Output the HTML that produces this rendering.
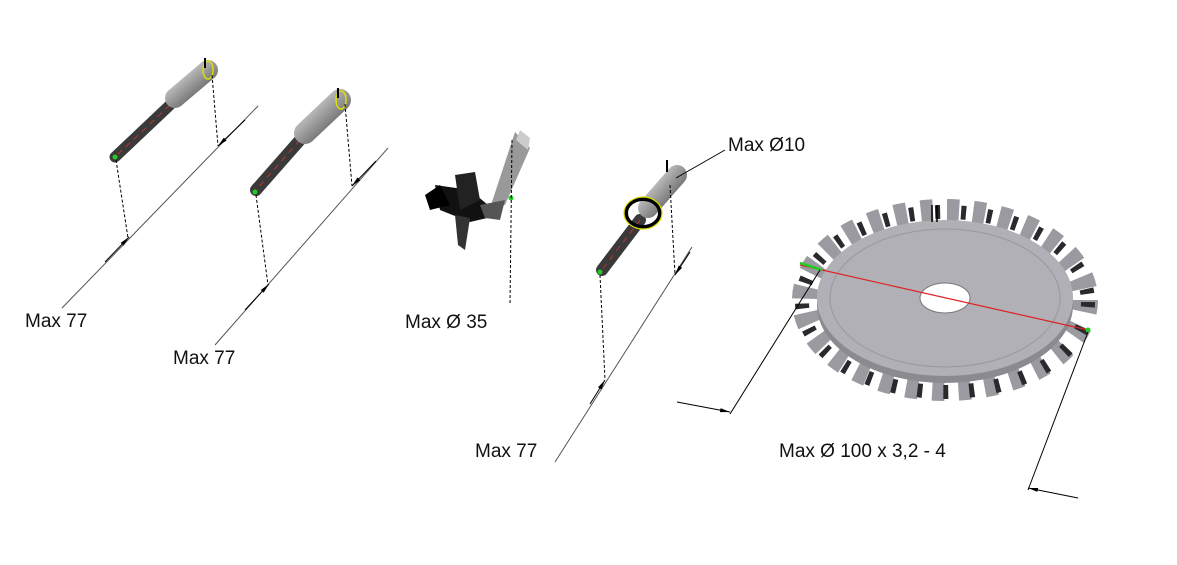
<!DOCTYPE html>
<html><head><meta charset="utf-8"><style>
html,body{margin:0;padding:0;background:#fff;width:1177px;height:565px;overflow:hidden}
svg{display:block}
text{font-family:"Liberation Sans",sans-serif;font-size:19px;fill:#111}
</style></head><body>
<svg width="1177" height="565" viewBox="0 0 1177 565">
<defs>
<linearGradient id="sh" x1="0" y1="0" x2="1" y2="1"><stop offset="0" stop-color="#ddd"/><stop offset=".5" stop-color="#999"/><stop offset="1" stop-color="#555"/></linearGradient>
<marker id="ar" viewBox="0 0 10 10" refX="10" refY="5" markerWidth="10" markerHeight="10" orient="auto-start-reverse"><path d="M0,3 L10,5 L0,7z" fill="#000"/></marker>
</defs>

<!-- Drill 1 -->
<g>
<line x1="170" y1="105" x2="115" y2="157" stroke="#3a3a3a" stroke-width="11" stroke-linecap="round"/>
<line x1="170" y1="105" x2="115" y2="157" stroke="#a33" stroke-width="1.2" stroke-dasharray="6 5"/>
<line x1="175" y1="98" x2="208" y2="70" stroke="url(#sh)" stroke-width="20" stroke-linecap="round"/>
<ellipse cx="208" cy="70" rx="5" ry="9" fill="none" stroke="#dd0" stroke-width="1.5"/>
<line x1="205" y1="58" x2="205" y2="68" stroke="#000" stroke-width="2"/>
<circle cx="115" cy="157" r="2.5" fill="#2c2"/>
<line x1="116" y1="160" x2="128" y2="238" stroke="#000" stroke-dasharray="3 2"/>
<line x1="212" y1="75" x2="218" y2="146" stroke="#000" stroke-dasharray="3 2"/>
<line x1="258" y1="106" x2="62" y2="308" stroke="#555"/>
<line x1="245" y1="120" x2="218" y2="146" stroke="#000" marker-end="url(#ar)"/>
<line x1="105" y1="262" x2="129" y2="237" stroke="#000" marker-end="url(#ar)"/>
<text x="25" y="327">Max 77</text>
</g>

<!-- Drill 2 -->
<g>
<line x1="300" y1="140" x2="256" y2="190" stroke="#3a3a3a" stroke-width="12" stroke-linecap="round"/>
<line x1="300" y1="140" x2="256" y2="190" stroke="#a33" stroke-width="1.2" stroke-dasharray="6 5"/>
<line x1="305" y1="133" x2="340" y2="100" stroke="url(#sh)" stroke-width="22" stroke-linecap="round"/>
<ellipse cx="341" cy="100" rx="5" ry="9" fill="none" stroke="#dd0" stroke-width="1.5"/>
<line x1="338" y1="88" x2="338" y2="98" stroke="#000" stroke-width="2"/>
<circle cx="255" cy="192" r="2.5" fill="#2c2"/>
<line x1="256" y1="195" x2="268" y2="285" stroke="#000" stroke-dasharray="3 2"/>
<line x1="345" y1="104" x2="352" y2="186" stroke="#000" stroke-dasharray="3 2"/>
<line x1="388" y1="148" x2="215" y2="345" stroke="#555"/>
<line x1="376" y1="161" x2="352" y2="186" stroke="#000" marker-end="url(#ar)"/>
<line x1="245" y1="310" x2="269" y2="284" stroke="#000" marker-end="url(#ar)"/>
<text x="173" y="364">Max 77</text>
</g>

<!-- Tool 3 -->
<g>
<path d="M515,132 L530,148 L505,205 L490,208 Z" fill="#999"/>
<path d="M520,130 L530,138 L528,150 L516,140Z" fill="#ccc"/>
<path d="M435,185 L470,190 L500,215 L470,222 L440,210 Z" fill="#111"/>
<path d="M455,175 L475,172 L480,200 L460,210Z" fill="#222"/>
<path d="M455,215 L470,218 L465,250 L458,245Z" fill="#333"/>
<path d="M480,205 L505,200 L500,220 L485,218Z" fill="#555"/>
<path d="M425,195 L440,185 L450,205 L430,210Z" fill="#000"/>
<circle cx="511" cy="198" r="2.5" fill="#2c2"/>
<line x1="512" y1="140" x2="510" y2="305" stroke="#000" stroke-dasharray="3 2"/>
<text x="405" y="328">Max Ø 35</text>
</g>

<!-- Drill 4 -->
<g>
<line x1="640" y1="220" x2="602" y2="270" stroke="#3a3a3a" stroke-width="12" stroke-linecap="round"/>
<line x1="640" y1="220" x2="602" y2="270" stroke="#a33" stroke-width="1.2" stroke-dasharray="6 5"/>
<line x1="648" y1="208" x2="677" y2="175" stroke="url(#sh)" stroke-width="20" stroke-linecap="round"/>
<ellipse cx="643" cy="213" rx="17" ry="14" fill="none" stroke="#000" stroke-width="4"/>
<ellipse cx="643" cy="213" rx="19" ry="16" fill="none" stroke="#dd0" stroke-width="1.2"/>
<line x1="667" y1="160" x2="667" y2="172" stroke="#000" stroke-width="2"/>
<circle cx="600" cy="272" r="2.5" fill="#2c2"/>
<line x1="600" y1="275" x2="605" y2="380" stroke="#000" stroke-dasharray="3 2"/>
<line x1="670" y1="185" x2="675" y2="275" stroke="#000" stroke-dasharray="3 2"/>
<line x1="692" y1="247" x2="555" y2="462" stroke="#555"/>
<line x1="690" y1="252" x2="675" y2="275" stroke="#000" marker-end="url(#ar)"/>
<line x1="590" y1="404" x2="605" y2="380" stroke="#000" marker-end="url(#ar)"/>
<line x1="725" y1="150" x2="676" y2="178" stroke="#000"/>
<text x="475" y="457">Max 77</text>
<text x="728" y="151">Max Ø10</text>
</g>

<!-- Saw blade -->
<g>
<ellipse cx="945" cy="300" rx="140" ry="88" fill="none" stroke="#9a9aa0" stroke-width="26" stroke-dasharray="12 14"/>
<ellipse cx="945" cy="302" rx="143" ry="90" fill="none" stroke="#2a2a2e" stroke-width="14" stroke-dasharray="5 21"/>
<ellipse cx="945" cy="305" rx="128" ry="78" fill="#8a8a90"/>
<ellipse cx="945" cy="298" rx="128" ry="78" fill="#b0b0b6"/>
<ellipse cx="945" cy="298" rx="115" ry="69" fill="none" stroke="#999" stroke-width="1"/>
<ellipse cx="945" cy="298" rx="25" ry="15" fill="#fff" stroke="#777"/>
</g>
<line x1="932" y1="205" x2="932" y2="222" stroke="#000" stroke-width="1.5"/>
<line x1="937" y1="205" x2="937" y2="222" stroke="#000" stroke-width="1.5"/>
<line x1="800" y1="265" x2="1088" y2="330" stroke="#d22" stroke-width="1.2"/>
<line x1="800" y1="263" x2="822" y2="270" stroke="#2c2" stroke-width="2.5"/>
<circle cx="1088" cy="330" r="2.5" fill="#2c2"/>
<line x1="820" y1="270" x2="730" y2="414" stroke="#000"/>
<line x1="1088" y1="332" x2="1028" y2="490" stroke="#000"/>
<line x1="677" y1="402" x2="730" y2="412" stroke="#000" marker-end="url(#ar)"/>
<line x1="1078" y1="498" x2="1028" y2="488" stroke="#000" marker-end="url(#ar)"/>
<text x="779" y="457">Max Ø 100 x 3,2 - 4</text>
</svg>
</body></html>
